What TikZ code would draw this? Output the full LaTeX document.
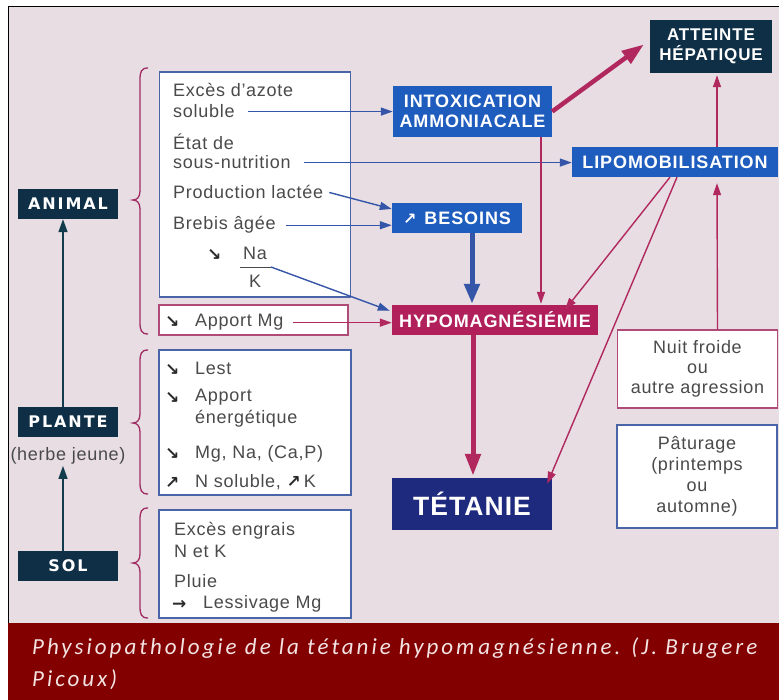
\documentclass[tikz,border=0pt]{standalone}
\usepackage{fontspec}
\setmainfont[LetterSpace=4]{Liberation Sans}
\newfontfamily\lblfont[LetterSpace=5]{Liberation Sans}
\newfontfamily\tetfont[LetterSpace=4]{Liberation Sans}
\newfontfamily\widefont[LetterSpace=12]{DejaVu Sans}
\newfontfamily\symfont{DejaVu Sans}
\newfontfamily\capfont[LetterSpace=13]{Carlito}
\usetikzlibrary{arrows.meta,calc}
\definecolor{bg}{HTML}{E7DDE3}
\definecolor{navy}{HTML}{0F2F47}
\definecolor{bluebox}{HTML}{1E5CBE}
\definecolor{magbox}{HTML}{B2205C}
\definecolor{tetcol}{HTML}{1E2A7E}
\definecolor{txt}{HTML}{4A4A4A}
\definecolor{txtdark}{HTML}{2A2A2A}
\definecolor{bluearr}{HTML}{3556A8}
\definecolor{magarr}{HTML}{B0285E}
\definecolor{bracecol}{HTML}{A02C62}
\definecolor{blueborder}{HTML}{4A64A8}
\definecolor{pinkborder}{HTML}{B04A78}
\definecolor{capbg}{HTML}{820000}
\definecolor{captxt}{HTML}{F3E3E3}
\definecolor{darkarr}{HTML}{123C4C}
\newcommand\drawbrace[3]{\draw[bracecol, line width=1.3]
  (148,#1) .. controls (141,#1) and (140,{#1+4}) .. (140,{#1+12})
  -- (140,{#2-9}) .. controls (140,{#2-3}) and (137,#2) .. (133,#2)
  .. controls (137,#2) and (140,{#2+3}) .. (140,{#2+9})
  -- (140,{#3-12}) .. controls (140,{#3-4}) and (141,#3) .. (148,#3);}
\begin{document}
\begin{tikzpicture}[x=1pt,y=-1pt,
  navybox/.style={fill=navy, text=white, inner sep=0, minimum width=100, minimum height=30,
    font=\widefont\bfseries\fontsize{16}{18}\selectfont},
  bluelbl/.style={fill=bluebox, text=white, inner sep=0, align=center,
    font=\lblfont\bfseries\fontsize{18}{20}\selectfont},
  txtnode/.style={anchor=base west, inner sep=0, text=txt, font=\fontsize{18}{21}\selectfont},
  symnode/.style={anchor=base west, inner sep=0, text=txtdark, font=\symfont\bfseries\fontsize{17}{17}\selectfont},
  frame/.style={fill=white, line width=1.2, inner sep=0},
  barr/.style={draw=bluearr, line width=1.4, -{Triangle[length=12,width=8]}},
  marr/.style={draw=magarr, line width=1.4, -{Triangle[length=12,width=8]}},
  capnode/.style={anchor=base west, inner sep=0, text=captxt, font=\capfont\itshape\fontsize{23}{27}\selectfont}
]
\useasboundingbox (0,0) rectangle (779,700);
\fill[white] (0,0) rectangle (779,700);
\fill[bg] (8,6) rectangle (779,623);
\draw[black, line width=1.2] (779,6.6) -- (8.6,6.6) -- (8.6,623);
\fill[capbg] (8,623) rectangle (779,700);

% left column
\node[navybox] (animal) at (68,204) {ANIMAL};
\node[navybox] (plante) at (68,422) {PLANTE};
\node[txtnode, anchor=base] (herbe) at (68,460) {(herbe jeune)};
\node[navybox] (sol) at (68,566) {SOL};
\draw[darkarr, line width=1.6, -{Triangle[length=13,width=9]}] ([xshift=-5]plante.north) -- ([xshift=-5]animal.south);
\draw[darkarr, line width=1.6, -{Triangle[length=13,width=9]}] ([xshift=-5]sol.north) -- ([xshift=-5,yshift=-2]herbe.south);

% braces
\drawbrace{68}{200}{334}
\drawbrace{350}{423}{494}
\drawbrace{508}{563}{618}

% boxes on the left
\node[frame, draw=blueborder, minimum width=191, minimum height=225] (box1) at (255,184.5) {};
\node[frame, draw=pinkborder, minimum width=189, minimum height=30] (box2) at (253.5,320) {};
\node[frame, draw=blueborder, minimum width=192, minimum height=145] (box3) at (255,422.5) {};
\node[frame, draw=blueborder, minimum width=192, minimum height=108] (box4) at (255,564) {};

% box1 texts
\node[txtnode] (t1) at (173,97) {Excès d’azote};
\node[txtnode] (t2) at (173,118) {soluble};
\node[txtnode] (t3) at (173,150) {État de};
\node[txtnode] (t4) at (173,169) {sous-nutrition};
\node[txtnode] (t5) at (173,199) {Production lactée};
\node[txtnode] (t6) at (173,230) {Brebis âgée};
\node[symnode] (g0) at (207,261) {↘};
\node[txtnode, anchor=base] (na) at (255,260) {Na};
\node[txtnode, anchor=base] (kk) at (255,288) {K};
\coordinate (fracL) at (240,267);
\coordinate (fracR) at (271,267);
\draw[txt, line width=0.8] (fracL) -- (fracR);

% box2
\node[symnode] (g1) at (165,328) {↘};
\node[txtnode] (t7) at (195,327) {Apport Mg};

% box3
\node[symnode] (g2) at (165,376) {↘};
\node[txtnode] (t8) at (195,375) {Lest};
\node[symnode] (g3) at (165,403) {↘};
\node[txtnode] (t9) at (195,402) {Apport};
\node[txtnode] (t10) at (195,424) {énergétique};
\node[symnode] (g4) at (165,459) {↘};
\node[txtnode] (t11) at (195,458) {Mg, Na, (Ca,P)};
\node[symnode] (g5) at (165,488) {↗};
\node[txtnode] (t12) at (195,487) {N soluble, {\symfont\bfseries\fontsize{17}{17}\selectfont\color{txtdark}↗}\,K};

% box4
\node[txtnode] (t13) at (174,535) {Excès engrais};
\node[txtnode] (t14) at (174,557) {N et K};
\node[txtnode] (t15) at (174,587) {Pluie};
\node[symnode] (g6) at (172,609) {→};
\node[txtnode] (t16) at (203,608) {Lessivage Mg};

% right side
\node[bluelbl, minimum width=159, minimum height=51] (intox) at (472.5,111.5) {INTOXICATION\\AMMONIACALE};
\node[bluelbl, fill=navy, minimum width=122, minimum height=53, font=\lblfont\bfseries\fontsize{17}{20}\selectfont] (atteinte) at (711,46.5) {ATTEINTE\\HÉPATIQUE};
\node[bluelbl, minimum width=206, minimum height=30] (lipo) at (675,162) {LIPOMOBILISATION};
\node[bluelbl, minimum width=130, minimum height=30] (besoins) at (457,218) {{\symfont\bfseries\fontsize{16}{16}\selectfont ↗}\hspace{8pt}BESOINS};
\node[bluelbl, fill=magbox, minimum width=206, minimum height=30] (hypo) at (495,320) {HYPOMAGNÉSIÉMIE};
\node[bluelbl, fill=tetcol, minimum width=160, minimum height=52, font=\tetfont\bfseries\fontsize{26.5}{28}\selectfont] (tetanie) at (472,504) {TÉTANIE};
\node[frame, draw=pinkborder, minimum width=160, minimum height=78, align=center, text=txt, font=\fontsize{18}{20}\selectfont] (nuit) at (697.5,369) {Nuit froide\\ou\\autre agression};
\node[frame, draw=blueborder, minimum width=160, minimum height=103, align=center, text=txt, font=\fontsize{18}{21}\selectfont] (patur) at (697,476.5) {Pâturage\\(printemps\\ou\\automne)};

% connectors from left boxes
\draw[barr] ([xshift=13]t2.east) -- (t2.east -| intox.west);
\draw[barr] ([xshift=13]t4.east) -- (t4.east -| lipo.west);
\draw[barr] ([xshift=6]t5.east) -- ([yshift=9]besoins.west);
\draw[barr] ([xshift=10]t6.east) -- (t6.east -| besoins.west);
\draw[barr] (fracR) -- ([shift={(-2,6)}]hypo.north west);
\draw[marr] ([xshift=10]t7.east) -- (t7.east -| hypo.west);

% connectors on the right
\draw[draw=bluearr, line width=5, -{Triangle[length=20,width=15]}] ([xshift=15]besoins.south) -- ([xshift=15,yshift=1]besoins.south |- hypo.north);
\draw[marr] ([xshift=68.5]intox.south) -- ([xshift=68.5,yshift=1]intox.south |- hypo.north);
\draw[draw=magarr, line width=4.5, -{Triangle[length=22,width=15]}] (intox.east) -- ([shift={(-6,-2)}]atteinte.west);
\draw[marr] ([xshift=42]lipo.north) -- ([xshift=6,yshift=-2]atteinte.south);
\draw[marr] ([xshift=20]nuit.north) -- ([xshift=42,yshift=-6]lipo.south);
\draw[marr] ([xshift=-5]lipo.south) -- ([shift={(70,5)}]hypo.north);
\draw[marr] ([xshift=2]lipo.south) -- ([shift={(-5,6)}]tetanie.north east);
\draw[draw=magarr, line width=5, -{Triangle[length=22,width=15]}] ([xshift=-22]hypo.south) -- ([xshift=1,yshift=2]tetanie.north);

% caption
\node[capnode] (cap1) at (32,654) {Physiopathologie de la tétanie hypom\hspace{4pt}agnésienne. (J. Brugere};
\node[capnode] (cap2) at (32,686) {Picoux)};
\end{tikzpicture}
\end{document}
